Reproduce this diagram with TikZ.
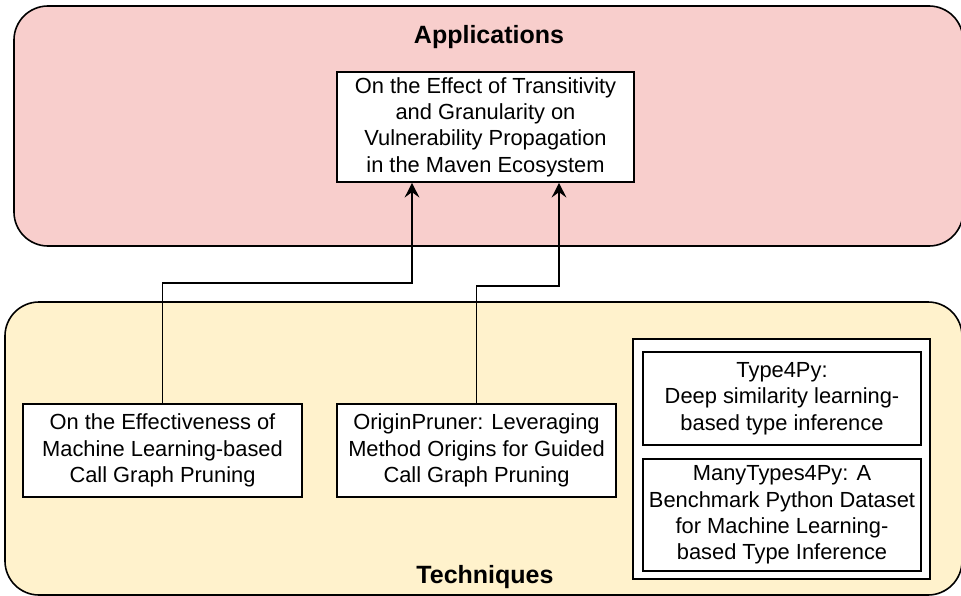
\documentclass[tikz,border=0pt]{standalone}
\usepackage{fontspec}
\setmainfont{Liberation Sans}
\usetikzlibrary{arrows.meta}

\definecolor{appfill}{HTML}{F8CECC}
\definecolor{techfill}{HTML}{FFF2CC}

\tikzset{
  group/.style={draw=black, line width=1.2pt, rounded corners=25.5pt},
  grouptitle/.style={anchor=base, inner sep=0pt, font=\fontsize{18.75pt}{22pt}\selectfont\bfseries},
  paper/.style={draw=black, fill=white, line width=1.2pt, align=center, inner sep=0pt,
    font=\fontsize{16.4pt}{19.8pt}\selectfont},
  link/.style={draw=black, line width=1.4pt, -{Stealth[length=11pt,width=11pt,inset=4pt]}},
}

\begin{document}
\begin{tikzpicture}[x=0.75pt, y=-0.75pt]
  \useasboundingbox (0,0) rectangle (961,596);

  % the two groups
  \draw[group, fill=appfill] (14,6) rectangle (963,246);
  \draw[group, fill=techfill] (5,302) rectangle (962,595);
  \node[grouptitle] (apptitle) at (489,43) {Applications};
  \node[grouptitle] (techtitle) at (485,583) {Techniques};

  % application paper
  \node[paper, minimum width=222.75pt, minimum height=82.5pt] (effect) at (485.5,127)
    {On the Effect of Transitivity\\and Granularity on\\Vulnerability Propagation\\in the Maven Ecosystem};

  % technique papers
  \node[paper, minimum width=209.25pt, minimum height=69.75pt] (mlprune) at (162.5,450.5)
    {On the Effectiveness of\\Machine Learning-based\\Call Graph Pruning};
  \node[paper, minimum width=209.25pt, minimum height=69.75pt] (origin) at (476.5,450.5)
    {OriginPruner: Leveraging\\Method Origins for Guided\\Call Graph Pruning};

  % type inference pair
  \node[paper, minimum width=222.75pt, minimum height=180pt] (typegroup) at (781.5,459) {};
  \node[paper, minimum width=208.5pt, minimum height=69.75pt] (type4py) at (782,398.5)
    {Type4Py:\\Deep similarity learning-\\based type inference};
  \node[paper, minimum width=208.5pt, minimum height=84pt] (manytypes) at (782,515)
    {ManyTypes4Py: A\\Benchmark Python Dataset\\for Machine Learning-\\based Type Inference};

  % connectors
  \coordinate (bendA) at (162.5,283);
  \coordinate (bendB) at (412,283);
  \draw[link] (mlprune.north) -- (bendA) -- (bendB) -- (bendB |- effect.south);
  \coordinate (bendC) at (476.5,286);
  \coordinate (bendD) at (559,286);
  \draw[link] (origin.north) -- (bendC) -- (bendD) -- (bendD |- effect.south);
\end{tikzpicture}
\end{document}
